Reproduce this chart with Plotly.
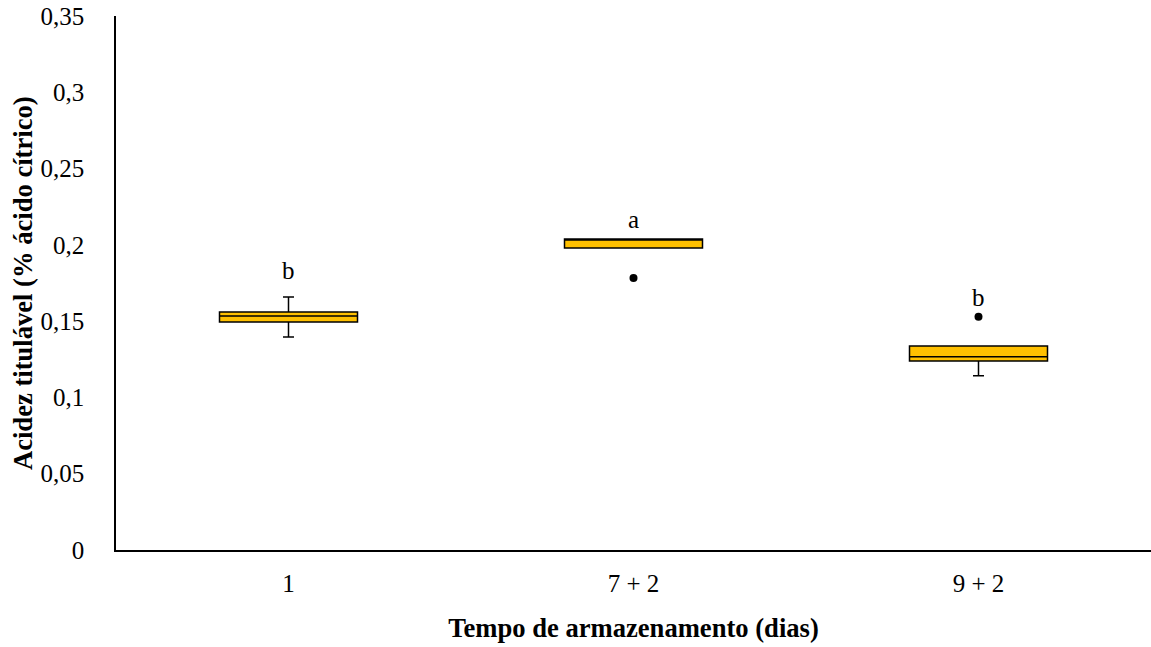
import plotly.graph_objects as go

# Storage time groups
categories = ["1", "7 + 2", "9 + 2"]

# Box statistics (titratable acidity, % citric acid)
q1 = [0.1494, 0.1980, 0.1239]
median = [0.1534, 0.2038, 0.1267]
q3 = [0.1560, 0.2038, 0.1337]
lower_fence = [0.1396, 0.1980, 0.1142]
upper_fence = [0.1658, 0.2038, 0.1337]

# Outlier points
outlier_x = ["7 + 2", "9 + 2"]
outlier_y = [0.1783, 0.1529]

# Significance letters and their heights
letters = ["b", "a", "b"]
letter_y = [0.1835, 0.2165, 0.1655]

y_ticks = [0, 0.05, 0.1, 0.15, 0.2, 0.25, 0.3, 0.35]
y_tick_text = ["0", "0,05", "0,1", "0,15", "0,2", "0,25", "0,3", "0,35"]

FONT = "Liberation Serif, Times New Roman, serif"
TICK_SIZE = 25
TITLE_SIZE = 26.6

fig = go.Figure()

fig.add_trace(go.Box(
    x=categories,
    q1=q1,
    median=median,
    q3=q3,
    lowerfence=lower_fence,
    upperfence=upper_fence,
    fillcolor="#FFC000",
    line=dict(color="black", width=1.5),
    width=0.4,
    whiskerwidth=0.08,
    boxpoints=False,
    showlegend=False,
))

fig.add_trace(go.Scatter(
    x=outlier_x,
    y=outlier_y,
    mode="markers",
    marker=dict(color="black", size=8),
    showlegend=False,
))

# Letters placed by category index
for idx, (txt, yy) in enumerate(zip(letters, letter_y)):
    fig.add_annotation(
        x=idx, y=yy, text=txt, showarrow=False,
        font=dict(family=FONT, size=TICK_SIZE, color="black"),
    )

# Vertical axis title
fig.add_annotation(
    xref="paper", yref="paper", x=-0.0898, y=0.5,
    xanchor="center", yanchor="middle",
    text="<b>Acidez titulável (% ácido cítrico)</b>",
    textangle=-90, showarrow=False,
    font=dict(family=FONT, size=TITLE_SIZE, color="black"),
)

fig.update_layout(
    width=1151,
    height=647,
    margin=dict(l=116, r=0, t=16, b=97),
    plot_bgcolor="white",
    paper_bgcolor="white",
    font=dict(family=FONT, size=TICK_SIZE, color="black"),
    xaxis=dict(
        type="category",
        categoryorder="array",
        categoryarray=categories,
        range=[-0.5, 2.5],
        showline=True,
        linecolor="black",
        linewidth=1.5,
        showgrid=False,
        ticks="",
        ticklen=0,
        ticklabelstandoff=10,
        tickfont=dict(family=FONT, size=TICK_SIZE),
        title=dict(
            text="<b>Tempo de armazenamento (dias)</b>",
            font=dict(family=FONT, size=TITLE_SIZE),
            standoff=23,
        ),
    ),
    yaxis=dict(
        range=[0, 0.35],
        tickvals=y_ticks,
        ticktext=y_tick_text,
        showline=True,
        linecolor="black",
        linewidth=1.5,
        showgrid=False,
        zeroline=False,
        ticks="",
        ticklabelstandoff=25,
        tickfont=dict(family=FONT, size=TICK_SIZE),
    ),
)

fig.write_html("out.html")
